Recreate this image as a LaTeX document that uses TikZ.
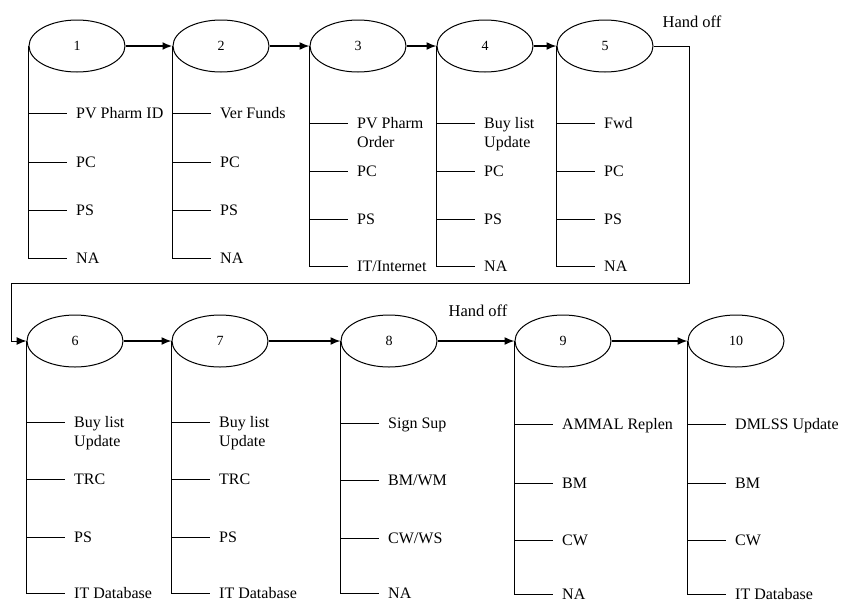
\documentclass[tikz,border=0pt]{standalone}
\usepackage{fontspec}
\setmainfont{Liberation Serif}
\usetikzlibrary{shapes.geometric,arrows.meta,positioning}
\tikzset{
  stage/.style={draw,ellipse,line width=1pt,minimum width=96pt,minimum height=52pt,inner sep=0pt,font=\fontsize{14}{16}\selectfont},
  item/.style={anchor=west,inner xsep=9pt,inner ysep=0pt,text height=11pt,text depth=0pt,font=\fontsize{16}{19}\selectfont},
  wire/.style={line width=1pt},
  flow/.style={line width=1.5pt,-{Latex[length=10pt,width=8pt]}},
  handoff/.style={anchor=base,font=\fontsize{16.5}{19}\selectfont},
}
\begin{document}
\begin{tikzpicture}[x=1pt,y=-1pt]
\useasboundingbox (0,0) rectangle (843,603);
% upper chain
\node[stage] (s1) at (77,46) {1};
\node[stage] (s2) at (221,46) {2};
\node[stage] (s3) at (358,46) {3};
\node[stage] (s4) at (485,46) {4};
\node[stage] (s5) at (605,46) {5};
\draw[flow,line width=2pt] (s1.east) -- (s2.west);
\draw[flow] (s2.east) -- (s3.west);
\draw[flow] (s3.east) -- (s4.west);
\draw[flow] (s4.east) -- (s5.west);
% lower chain
\node[stage] (s6) at (75,341) {6};
\node[stage] (s7) at (220,341) {7};
\node[stage] (s8) at (389,341) {8};
\node[stage] (s9) at (563,341) {9};
\node[stage] (s10) at (736,341) {10};
\draw[flow] (s6.east) -- (s7.west);
\draw[flow] (s7.east) -- (s8.west);
\draw[flow] (s8.east) -- (s9.west);
\draw[flow] (s9.east) -- (s10.west);
% hand off from 5 to 6
\coordinate (h1) at (689,283);
\coordinate (h2) at (11,283);
\draw[wire,-{Latex[length=10pt,width=8pt]}] (s5.east) -| (h1) -- (h2) |- (s6.west);
\node[handoff] (ho1) at (692,27) {Hand off};
\node[handoff] (ho2) at (478,316) {Hand off};
% items of 1 to 5
\node[item] (p1a) at (67,113) {PV Pharm ID};
\node[item] (p1b) at (67,162) {PC};
\node[item] (p1c) at (67,210) {PS};
\node[item] (p1d) at (67,258) {NA};
\node[item] (p2a) at (211,113) {Ver Funds};
\node[item] (p2b) at (211,162) {PC};
\node[item] (p2c) at (211,210) {PS};
\node[item] (p2d) at (211,258) {NA};
\node[item] (p3a) at (348,123) {PV Pharm};
\node[item,below=8pt of p3a.south west,anchor=north west] (p3o) {Order};
\node[item] (p3b) at (348,171) {PC};
\node[item] (p3c) at (348,219) {PS};
\node[item] (p3d) at (348,266) {IT/Internet};
\node[item] (p4a) at (475,123) {Buy list};
\node[item,below=8pt of p4a.south west,anchor=north west] (p4o) {Update};
\node[item] (p4b) at (475,171) {PC};
\node[item] (p4c) at (475,219) {PS};
\node[item] (p4d) at (475,266) {NA};
\node[item] (p5a) at (595,123) {Fwd};
\node[item] (p5b) at (595,171) {PC};
\node[item] (p5c) at (595,219) {PS};
\node[item] (p5d) at (595,266) {NA};
% items of 6 to 10
\node[item] (p6a) at (65,422) {Buy list};
\node[item,below=8pt of p6a.south west,anchor=north west] (p6o) {Update};
\node[item] (p6b) at (65,479) {TRC};
\node[item] (p6c) at (65,537) {PS};
\node[item] (p6d) at (65,593) {IT Database};
\node[item] (p7a) at (210,422) {Buy list};
\node[item,below=8pt of p7a.south west,anchor=north west] (p7o) {Update};
\node[item] (p7b) at (210,479) {TRC};
\node[item] (p7c) at (210,537) {PS};
\node[item] (p7d) at (210,593) {IT Database};
\node[item] (p8a) at (379,423) {Sign Sup};
\node[item] (p8b) at (379,480) {BM/WM};
\node[item] (p8c) at (379,538) {CW/WS};
\node[item] (p8d) at (379,593) {NA};
\node[item] (p9a) at (553,424) {AMMAL Replen};
\node[item] (p9b) at (553,483) {BM};
\node[item] (p9c) at (553,540) {CW};
\node[item] (p9d) at (553,594) {NA};
\node[item] (p10a) at (726,424) {DMLSS Update};
\node[item] (p10b) at (726,483) {BM};
\node[item] (p10c) at (726,540) {CW};
\node[item] (p10d) at (726,594) {IT Database};
% branches
\foreach \i in {1,...,10}
  \foreach \j in {a,b,c,d}
    \draw[wire] (s\i.west) |- (p\i\j.west);
\end{tikzpicture}
\end{document}
